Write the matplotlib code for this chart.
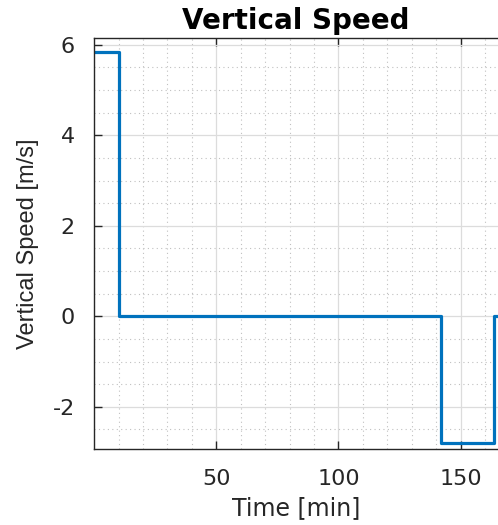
import numpy as np
import matplotlib.pyplot as plt
from matplotlib.ticker import MultipleLocator

plt.rcParams['axes.unicode_minus'] = False

# step times [min] and vertical speed [m/s]
t = [0, 10.2, 141.8, 163.8, 175]
vs = [5.85, 0, -2.79, 0, 0]

fig = plt.figure(figsize=(4.98, 5.25), dpi=100)
ax = fig.add_axes([0.189, 0.144, 0.811, 0.784])

ax.plot(t, vs, drawstyle='steps-post', color='#0072BD', lw=2.3)

ax.set_xlim(0, 165.3)
ax.set_ylim(-2.94, 6.155)
ax.set_xticks([50, 100, 150])
ax.set_yticks([-2, 0, 2, 4, 6])
ax.xaxis.set_minor_locator(MultipleLocator(10))
ax.yaxis.set_minor_locator(MultipleLocator(0.5))

ax.grid(True, which='major', color='#dcdcdc', lw=0.9, ls='-')
ax.grid(True, which='minor', color='#c0c0c0', lw=0.8, ls=(0, (1, 3)))
ax.set_axisbelow(True)

ax.tick_params(which='major', direction='in', length=6, width=1,
               top=True, right=False, labelsize=16, color='#262626',
               labelcolor='#262626', pad=14)
ax.tick_params(which='minor', length=0)
for s in ['left', 'bottom', 'top']:
    ax.spines[s].set_color('#262626')
    ax.spines[s].set_linewidth(1)
ax.spines['right'].set_visible(False)

ax.set_title('Vertical Speed', fontsize=20, fontweight='bold', pad=6)
ax.set_xlabel('Time [min]', fontsize=17, color='#262626', labelpad=5)
ax.set_ylabel('Vertical Speed [m/s]', fontsize=17, family='Liberation Sans',
              color='#262626', labelpad=10)

fig.savefig('out.png', dpi=100)
